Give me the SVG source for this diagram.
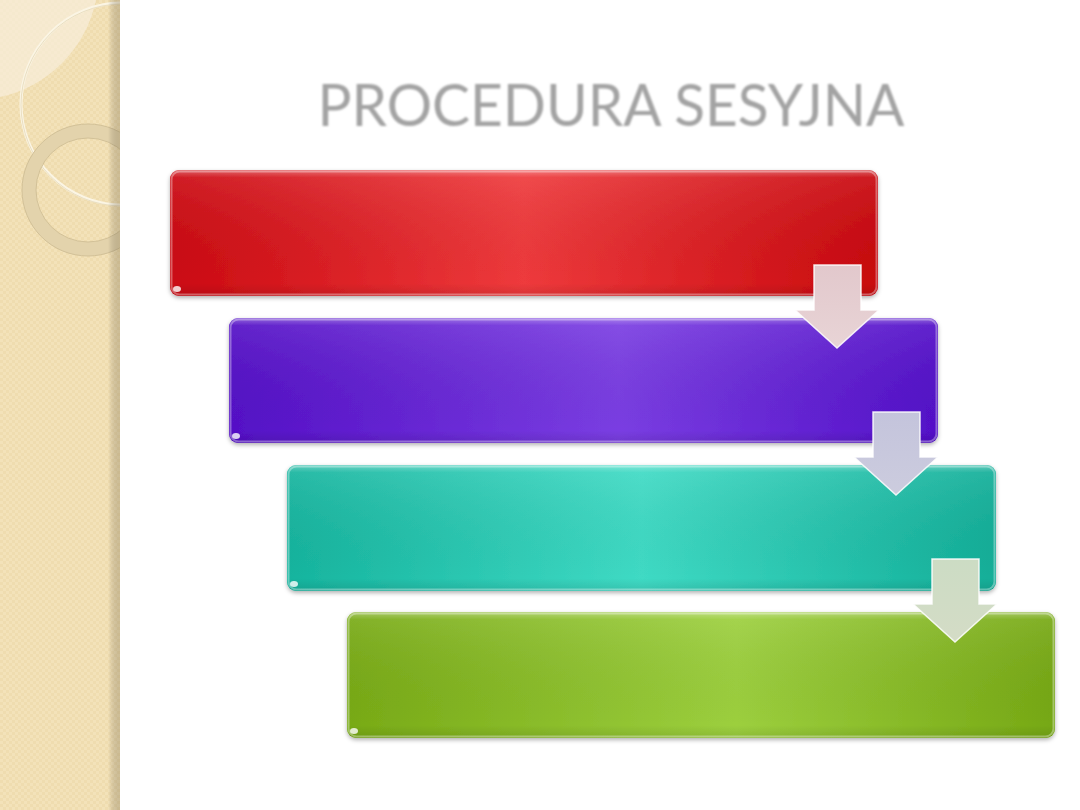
<svg xmlns="http://www.w3.org/2000/svg" width="1080" height="810" viewBox="0 0 1080 810">
<defs>
<style>
.title{font-family:"Gill Sans","Lato","Open Sans","Liberation Sans",sans-serif;font-size:58px;fill:#a3a3a3;}
.gloss{fill:none;stroke:#ffffff;stroke-opacity:0.35;stroke-width:2;}
.arrow{stroke:#ffffff;stroke-opacity:0.85;stroke-width:1.5;stroke-linejoin:miter;}
</style>
<pattern id="chk" width="6" height="6" patternUnits="userSpaceOnUse">
<rect width="6" height="6" fill="#f3e2b9"/>
<rect width="3" height="3" fill="#efdcaf"/>
<rect x="3" y="3" width="3" height="3" fill="#efdcaf"/>
</pattern>
<linearGradient id="edge" x1="0" y1="0" x2="1" y2="0">
<stop offset="0" stop-color="#000" stop-opacity="0"/>
<stop offset="1" stop-color="#8a7a55" stop-opacity="0.35"/>
</linearGradient>
<clipPath id="panel"><rect x="0" y="0" width="120" height="810"/></clipPath>
<linearGradient id="gRed" x1="0" y1="0" x2="1" y2="0">
<stop offset="0" stop-color="#cb0a12"/><stop offset="0.5" stop-color="#ee3a3c"/><stop offset="1" stop-color="#c8080e"/>
</linearGradient>
<linearGradient id="gPur" x1="0" y1="0" x2="1" y2="0">
<stop offset="0" stop-color="#5410c6"/><stop offset="0.55" stop-color="#7a3ee2"/><stop offset="1" stop-color="#5310c8"/>
</linearGradient>
<linearGradient id="gTeal" x1="0" y1="0" x2="1" y2="0">
<stop offset="0" stop-color="#16b49e"/><stop offset="0.5" stop-color="#3fdac4"/><stop offset="1" stop-color="#12ae98"/>
</linearGradient>
<linearGradient id="gGrn" x1="0" y1="0" x2="1" y2="0">
<stop offset="0" stop-color="#78aa16"/><stop offset="0.55" stop-color="#9ccf3e"/><stop offset="1" stop-color="#76a814"/>
</linearGradient>
<linearGradient id="shine" x1="0" y1="0" x2="0" y2="1">
<stop offset="0" stop-color="#fff" stop-opacity="0.35"/>
<stop offset="0.06" stop-color="#fff" stop-opacity="0.08"/>
<stop offset="0.9" stop-color="#000" stop-opacity="0"/>
<stop offset="1" stop-color="#000" stop-opacity="0.1"/>
</linearGradient>
<linearGradient id="a1" x1="0" y1="0" x2="0" y2="1"><stop offset="0" stop-color="#e2c8cc"/><stop offset="1" stop-color="#e8d4d6"/></linearGradient>
<linearGradient id="a2" x1="0" y1="0" x2="0" y2="1"><stop offset="0" stop-color="#c4c4dc"/><stop offset="1" stop-color="#ccccde"/></linearGradient>
<linearGradient id="a3" x1="0" y1="0" x2="0" y2="1"><stop offset="0" stop-color="#ccdcc4"/><stop offset="1" stop-color="#d4dcc6"/></linearGradient>
<filter id="blur" x="-5%" y="-20%" width="110%" height="140%"><feGaussianBlur stdDeviation="1"/></filter>
<filter id="sh" x="-5%" y="-10%" width="110%" height="130%"><feDropShadow dx="0" dy="2" stdDeviation="2" flood-color="#000" flood-opacity="0.3"/></filter>
<path id="arr" d="M19,0 H66 V45 H84 L42,83 L0,45 H19 Z"/>
</defs>
<rect width="1080" height="810" fill="#ffffff"/>
<g id="sidebar">
<rect x="0" y="0" width="120" height="810" fill="url(#chk)"/>
<g clip-path="url(#panel)">
<path d="M0,97 A125,125 0 0 0 96,0 H0 Z" fill="#f8eedb" opacity="0.7"/>
<circle cx="122" cy="104" r="101" fill="none" stroke="#fbf5e4" stroke-width="3"/>
<circle cx="122" cy="105" r="101" fill="none" stroke="#d8c8a0" stroke-width="1" opacity="0.5"/>
<circle cx="88" cy="190" r="59" fill="none" stroke="#e3d3ac" stroke-width="14"/>
<circle cx="88" cy="190" r="66" fill="none" stroke="#d2c198" stroke-width="1"/>
<circle cx="88" cy="190" r="52" fill="none" stroke="#d2c198" stroke-width="1"/>
</g>
<rect x="108" y="0" width="12" height="810" fill="url(#edge)"/>
</g>
<g id="title"><text class="title" x="611" y="126" text-anchor="middle" textLength="587" lengthAdjust="spacingAndGlyphs" filter="url(#blur)">PROCEDURA SESYJNA</text></g>
<g id="node1" filter="url(#sh)">
<rect x="170" y="170" width="708" height="126" rx="9" fill="url(#gRed)"/>
<rect x="170" y="170" width="708" height="126" rx="9" fill="url(#shine)"/>
<rect x="171.5" y="171.5" width="705" height="123" rx="8" class="gloss"/>
<ellipse cx="177" cy="289" rx="4" ry="3" fill="#fff" opacity="0.8"/>
</g>
<g id="node2" filter="url(#sh)">
<rect x="229" y="318" width="709" height="125" rx="9" fill="url(#gPur)"/>
<rect x="229" y="318" width="709" height="125" rx="9" fill="url(#shine)"/>
<rect x="230.5" y="319.5" width="706" height="122" rx="8" class="gloss"/>
<ellipse cx="236" cy="436" rx="4" ry="3" fill="#fff" opacity="0.8"/>
</g>
<g id="node3" filter="url(#sh)">
<rect x="287" y="465" width="709" height="126" rx="9" fill="url(#gTeal)"/>
<rect x="287" y="465" width="709" height="126" rx="9" fill="url(#shine)"/>
<rect x="288.5" y="466.5" width="706" height="123" rx="8" class="gloss"/>
<ellipse cx="294" cy="584" rx="4" ry="3" fill="#fff" opacity="0.8"/>
</g>
<g id="node4" filter="url(#sh)">
<rect x="347" y="612" width="708" height="126" rx="9" fill="url(#gGrn)"/>
<rect x="347" y="612" width="708" height="126" rx="9" fill="url(#shine)"/>
<rect x="348.5" y="613.5" width="705" height="123" rx="8" class="gloss"/>
<ellipse cx="354" cy="731" rx="4" ry="3" fill="#fff" opacity="0.8"/>
</g>
<g id="connectors">
<use href="#arr" x="795" y="265" fill="url(#a1)" class="arrow"/>
<use href="#arr" x="854" y="412" fill="url(#a2)" class="arrow"/>
<use href="#arr" x="913" y="559" fill="url(#a3)" class="arrow"/>
</g>
</svg>
